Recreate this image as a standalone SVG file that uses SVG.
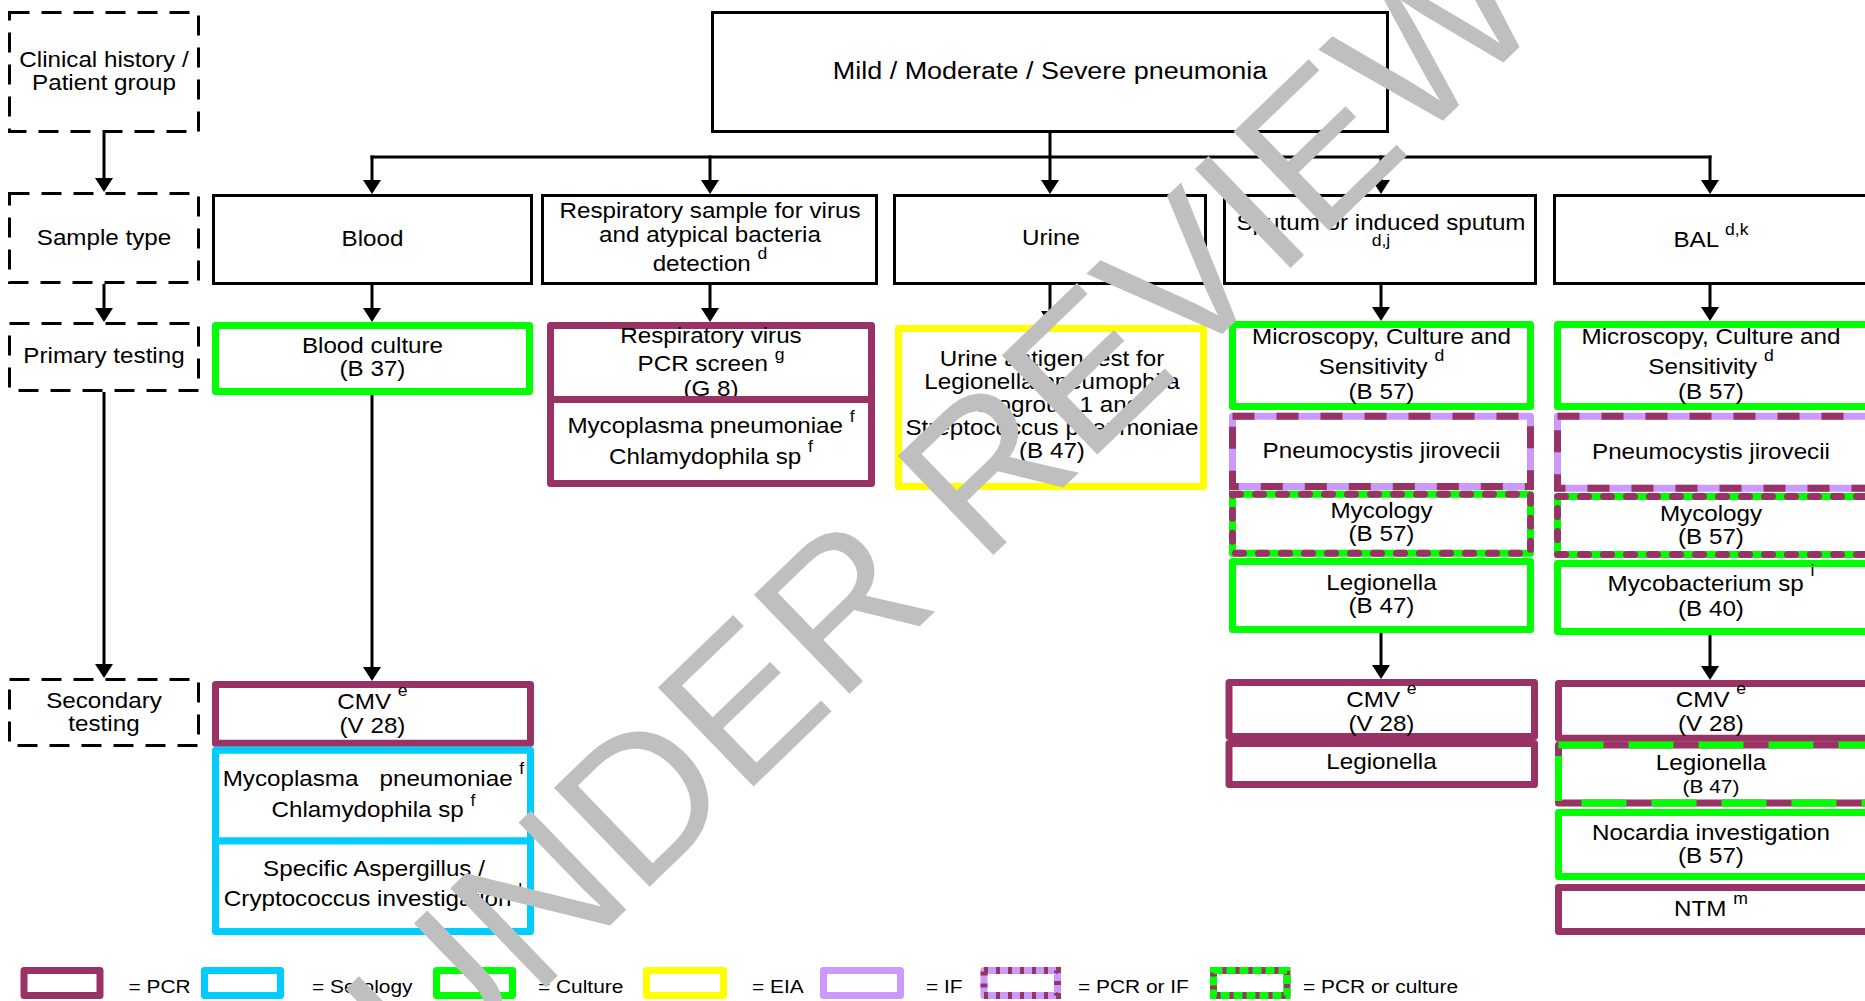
<svg xmlns="http://www.w3.org/2000/svg" width="1865" height="1001" viewBox="0 0 1865 1001">
<defs>
<style>
.t{font-family:"Liberation Sans",Arial,Helvetica,sans-serif;font-size:22px;fill:#000;text-anchor:middle;transform-box:fill-box;transform-origin:50% 50%;transform:scaleX(1.1)}
.s{font-size:16px}
.big{font-size:24.5px}
.sm{font-size:19px}
.lg{font-size:19px;text-anchor:start;transform-origin:0% 50%}
.d{fill:#fff;stroke:#000;stroke-width:3;stroke-dasharray:20 12}
.b{fill:#fff;stroke:#000;stroke-width:3}
.pcr{fill:#fff;stroke:#993366;stroke-width:7;stroke-linejoin:round}
.ser{fill:#fff;stroke:#00ccff;stroke-width:7;stroke-linejoin:round}
.cul{fill:#fff;stroke:#00ff00;stroke-width:7;stroke-linejoin:round}
.eia{fill:#fff;stroke:#ffff00;stroke-width:7;stroke-linejoin:round}
.if{fill:#fff;stroke:#cc99ff;stroke-width:7;stroke-linejoin:round}
.ovp{fill:none;stroke:#993366;stroke-width:7}
.ovg{fill:none;stroke:#00ff00;stroke-width:7}
.pif{stroke-dasharray:22 22}
.pcu{stroke-dasharray:8 15;stroke-linecap:round}
.gcu{stroke-dasharray:45 25}
.c{fill:none;stroke:#000;stroke-width:3}
.wm{font-family:"Liberation Sans",Arial,Helvetica,sans-serif;font-size:200px;fill:#bfbfbf;text-anchor:start}
</style>
<marker id="ah" markerUnits="userSpaceOnUse" viewBox="0 0 14 18" markerWidth="14" markerHeight="18" refX="4" refY="9" orient="auto">
<path d="M0,0 L14,9 L0,18 z" fill="#000"/>
</marker>
</defs>
<rect width="1865" height="1001" fill="#fff"/>

<!-- left column -->
<g id="n-clinical">
<rect class="d" x="9.5" y="12.5" width="189" height="119"/>
<text class="t" x="104" y="67">Clinical history /</text>
<text class="t" x="104" y="90">Patient group</text>
</g>
<g id="n-sampletype">
<rect class="d" x="9.5" y="193.5" width="189" height="89"/>
<text class="t" x="104" y="245">Sample type</text>
</g>
<g id="n-primary">
<rect class="d" x="9.5" y="323.5" width="189" height="67"/>
<text class="t" x="104" y="363">Primary testing</text>
</g>
<g id="n-secondary">
<rect class="d" x="9.5" y="679.5" width="189" height="66"/>
<text class="t" x="104" y="708">Secondary</text>
<text class="t" x="104" y="731">testing</text>
</g>

<!-- top -->
<g id="n-pneumonia">
<rect class="b" x="712.5" y="12.5" width="675" height="119"/>
<text class="t big" x="1050" y="79">Mild / Moderate / Severe pneumonia</text>
</g>

<!-- sample row -->
<g id="n-blood">
<rect class="b" x="213.5" y="195.5" width="318" height="88"/>
<text class="t" x="372.5" y="246">Blood</text>
</g>
<g id="n-resp">
<rect class="b" x="542.5" y="195.5" width="334" height="88"/>
<text class="t" x="710" y="218">Respiratory sample for virus</text>
<text class="t" x="710" y="242">and atypical bacteria</text>
<text class="t" x="710" y="271">detection <tspan class="s" dy="-12">d</tspan></text>
</g>
<g id="n-urine">
<rect class="b" x="894.5" y="195.5" width="311" height="88"/>
<text class="t" x="1051" y="245">Urine</text>
</g>
<g id="n-sputum">
<rect class="b" x="1224.5" y="195.5" width="311" height="88"/>
<text class="t" x="1381" y="230">Sputum or induced sputum</text>
<text class="t s" x="1381" y="246">d,j</text>
</g>
<g id="n-bal">
<rect class="b" x="1554.5" y="195.5" width="314" height="88"/>
<text class="t" x="1711" y="247">BAL <tspan class="s" dy="-12">d,k</tspan></text>
</g>

<!-- primary testing -->
<g id="n-bloodculture">
<rect class="cul" x="215.5" y="325.5" width="314" height="66"/>
<text class="t" x="372.5" y="353">Blood culture</text>
<text class="t" x="372.5" y="376">(B 37)</text>
</g>
<g id="n-respvirus">
<rect class="pcr" x="550.5" y="325.5" width="321" height="74"/>
<text class="t" x="711" y="343">Respiratory virus</text>
<text class="t" x="711" y="371">PCR screen <tspan class="s" dy="-11">g</tspan></text>
<text class="t" x="711" y="396">(G 8)</text>
</g>
<g id="n-respmyco">
<rect class="pcr" x="550.5" y="399.5" width="321" height="84"/>
<text class="t" x="711" y="433">Mycoplasma pneumoniae <tspan class="s" dy="-11">f</tspan></text>
<text class="t" x="711" y="464">Chlamydophila sp <tspan class="s" dy="-12">f</tspan></text>
</g>
<g id="n-urineag">
<rect class="eia" x="898.5" y="328.5" width="305" height="158"/>
<text class="t" x="1052" y="366">Urine antigen test for</text>
<text class="t" x="1052" y="389">Legionella pneumophila</text>
<text class="t" x="1052" y="412">serogroup 1 and</text>
<text class="t" x="1052" y="435">Streptococcus pneumoniae</text>
<text class="t" x="1052" y="458">(B 47)</text>
</g>
<g id="n-sp-mcs">
<rect class="cul" x="1232.5" y="324.5" width="298" height="82"/>
<text class="t" x="1381.5" y="344">Microscopy, Culture and</text>
<text class="t" x="1381.5" y="374">Sensitivity <tspan class="s" dy="-13">d</tspan></text>
<text class="t" x="1381.5" y="399">(B 57)</text>
</g>
<g id="n-sp-pneumo">
<rect class="if" x="1232.5" y="416.2" width="298" height="70.3"/>
<rect class="ovp pif" x="1232.5" y="416.2" width="298" height="70.3"/>
<text class="t" x="1381.5" y="458">Pneumocystis jirovecii</text>
</g>
<g id="n-sp-myco">
<rect class="cul" x="1232.5" y="494.2" width="298" height="59"/>
<rect class="ovp pcu" x="1232.5" y="494.2" width="298" height="59"/>
<text class="t" x="1381.5" y="518">Mycology</text>
<text class="t" x="1381.5" y="541">(B 57)</text>
</g>
<g id="n-sp-leg">
<rect class="cul" x="1232.5" y="561.5" width="298" height="68"/>
<text class="t" x="1381.5" y="590">Legionella</text>
<text class="t" x="1381.5" y="613">(B 47)</text>
</g>
<g id="n-bal-mcs">
<rect class="cul" x="1557.5" y="324.5" width="320" height="82"/>
<text class="t" x="1711" y="344">Microscopy, Culture and</text>
<text class="t" x="1711" y="374">Sensitivity <tspan class="s" dy="-13">d</tspan></text>
<text class="t" x="1711" y="399">(B 57)</text>
</g>
<g id="n-bal-pneumo">
<rect class="if" x="1557.5" y="416.2" width="320" height="72"/>
<rect class="ovp pif" x="1557.5" y="416.2" width="320" height="72"/>
<text class="t" x="1711" y="459">Pneumocystis jirovecii</text>
</g>
<g id="n-bal-myco">
<rect class="cul" x="1557.5" y="496.5" width="320" height="58"/>
<rect class="ovp pcu" x="1557.5" y="496.5" width="320" height="58"/>
<text class="t" x="1711" y="521">Mycology</text>
<text class="t" x="1711" y="544">(B 57)</text>
</g>
<g id="n-bal-mycobact">
<rect class="cul" x="1557.5" y="563.5" width="320" height="68"/>
<text class="t" x="1711" y="591">Mycobacterium sp <tspan class="s" dy="-15">i</tspan></text>
<text class="t" x="1711" y="616">(B 40)</text>
</g>

<!-- secondary testing -->
<g id="n-bl-cmv">
<rect class="pcr" x="215.5" y="684.5" width="315" height="58.7"/>
<text class="t" x="372.5" y="709">CMV <tspan class="s" dy="-13">e</tspan></text>
<text class="t" x="372.5" y="733">(V 28)</text>
</g>
<g id="n-bl-myco">
<rect class="ser" x="215.5" y="750.2" width="315" height="90.8"/>
<text class="t" x="373.5" y="786">Mycoplasma <tspan dx="13">pneumoniae</tspan> <tspan class="s" dy="-12">f</tspan></text>
<text class="t" x="373.5" y="817">Chlamydophila sp <tspan class="s" dy="-11">f</tspan></text>
</g>
<g id="n-bl-asp">
<rect class="ser" x="215.5" y="841" width="315" height="90.5"/>
<text class="t" x="374" y="876">Specific Aspergillus /</text>
<text class="t" x="373" y="906">Cryptococcus investigation <tspan class="s" dy="-11">l</tspan></text>
</g>
<g id="n-sp-cmv">
<rect class="pcr" x="1229" y="682.5" width="305.5" height="54"/>
<text class="t" x="1381.5" y="707">CMV <tspan class="s" dy="-13">e</tspan></text>
<text class="t" x="1381.5" y="731">(V 28)</text>
</g>
<g id="n-sp-leg2">
<rect class="pcr" x="1229" y="743.5" width="305.5" height="41"/>
<text class="t" x="1381.5" y="769">Legionella</text>
</g>
<g id="n-bal-cmv">
<rect class="pcr" x="1558.5" y="683.5" width="320" height="54.7"/>
<text class="t" x="1711" y="707">CMV <tspan class="s" dy="-13">e</tspan></text>
<text class="t" x="1711" y="731">(V 28)</text>
</g>
<g id="n-bal-leg">
<rect class="pcr" x="1558.5" y="745" width="320" height="58"/>
<rect class="ovg gcu" x="1558.5" y="745" width="320" height="58"/>
<text class="t" x="1711" y="770">Legionella</text>
<text class="t sm" x="1711" y="793">(B 47)</text>
</g>
<g id="n-bal-noc">
<rect class="cul" x="1558.5" y="812.5" width="320" height="64"/>
<text class="t" x="1711" y="840">Nocardia investigation</text>
<text class="t" x="1711" y="863">(B 57)</text>
</g>
<g id="n-bal-ntm">
<rect class="pcr" x="1558.5" y="887.5" width="320" height="44"/>
<text class="t" x="1711" y="916">NTM <tspan class="s" dy="-12">m</tspan></text>
</g>

<!-- connectors -->
<g id="connectors">
<path class="c" d="M104,133 V182" marker-end="url(#ah)"/>
<path class="c" d="M104,284 V312" marker-end="url(#ah)"/>
<path class="c" d="M104,392 V668" marker-end="url(#ah)"/>
<path class="c" d="M372,157 H1710" stroke-linecap="square"/>
<path class="c" d="M1050,133 V184" marker-end="url(#ah)"/>
<path class="c" d="M372,155.5 V184" marker-end="url(#ah)"/>
<path class="c" d="M710,155.5 V184" marker-end="url(#ah)"/>
<path class="c" d="M1381,155.5 V184" marker-end="url(#ah)"/>
<path class="c" d="M1710,155.5 V184" marker-end="url(#ah)"/>
<path class="c" d="M372,285 V312" marker-end="url(#ah)"/>
<path class="c" d="M710,285 V312" marker-end="url(#ah)"/>
<path class="c" d="M1050,285 V315" marker-end="url(#ah)"/>
<path class="c" d="M1381,285 V311" marker-end="url(#ah)"/>
<path class="c" d="M1710,285 V311" marker-end="url(#ah)"/>
<path class="c" d="M372,395 V671" marker-end="url(#ah)"/>
<path class="c" d="M1381,633 V669" marker-end="url(#ah)"/>
<path class="c" d="M1710,635 V670" marker-end="url(#ah)"/>
</g>

<!-- legend -->
<g id="legend">
<rect class="pcr" x="24" y="970.5" width="76" height="25"/>
<text class="t lg" x="128.5" y="993">= PCR</text>
<rect class="ser" x="204.5" y="970.5" width="76" height="25"/>
<text class="t lg" x="312" y="993">= Serology</text>
<rect class="cul" x="436.5" y="970.5" width="76" height="25"/>
<text class="t lg" x="538" y="993">= Culture</text>
<rect class="eia" x="646.5" y="970.5" width="77" height="25"/>
<text class="t lg" x="752" y="993">= EIA</text>
<rect class="if" x="823.5" y="970.5" width="77" height="25"/>
<text class="t lg" x="926" y="993">= IF</text>
<rect class="if" x="984" y="970.5" width="73.5" height="25"/>
<rect class="ovp" x="984" y="970.5" width="73.5" height="25" stroke-dasharray="4 8"/>
<text class="t lg" x="1078" y="993">= PCR or IF</text>
<rect class="pcr" x="1213.5" y="970.5" width="73.5" height="25"/>
<rect class="ovg" x="1213.5" y="970.5" width="73.5" height="25" stroke-dasharray="9 4"/>
<text class="t lg" x="1303" y="993">= PCR or culture</text>
</g>

<!-- watermark -->
<g id="watermark" transform="translate(430,1099) rotate(-44)">
<text class="wm" x="0" y="0">UNDER REVIEW</text>
</g>
</svg>
